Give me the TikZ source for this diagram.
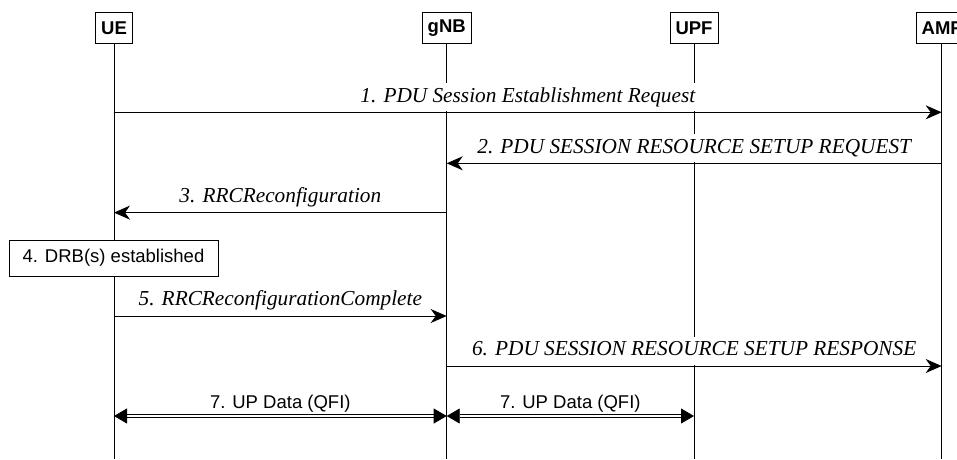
\documentclass[tikz,border=0pt]{standalone}
\usepackage{fontspec}
\setmainfont{Liberation Serif}
\setsansfont{Liberation Sans}
\usetikzlibrary{arrows.meta}
\begin{document}
\begin{tikzpicture}[x=1pt,y=-1pt,
  actor/.style={draw, line width=0.9pt, fill=white, font=\sffamily\bfseries\fontsize{18.5}{22}\selectfont,
    minimum height=31pt, inner xsep=5.5pt, inner ysep=0pt, anchor=north},
  lifeline/.style={line width=0.9pt},
  msg/.style={line width=1pt, -{Stealth[length=16pt,width=14pt,inset=5pt]}},
  msglabel/.style={font=\itshape\fontsize{21.3}{25}\selectfont, fill=white, anchor=south,
    inner xsep=2pt, inner ysep=4pt, text height=15pt, text depth=5pt, yshift=0.6pt},
  data/.style={line width=0.8pt, double=white, double distance=2.2pt,
    {Triangle[length=13pt,width=15pt]}-{Triangle[length=13pt,width=15pt]}},
  datalabel/.style={font=\sffamily\fontsize{18.5}{22}\selectfont, anchor=base, yshift=8pt, inner sep=0pt},
  actionbox/.style={draw, line width=0.9pt, fill=white, font=\sffamily\fontsize{18.5}{22}\selectfont,
    minimum width=209pt, minimum height=36pt, inner sep=0pt}
]
\path[use as bounding box, clip] (0,0) rectangle (957,459);

% actors
\node[actor] (ue)  at (114,12)   {UE};
\node[actor] (gnb) at (446.7,12) {gNB};
\node[actor] (upf) at (694,12)   {UPF};
\node[actor] (amf) at (941.7,12) {AMF};

% helper coordinates
\coordinate (bot) at (0,459);
\coordinate (y1) at (0,112.3);
\coordinate (y2) at (0,163.3);
\coordinate (y3) at (0,212.6);
\coordinate (y4) at (0,258);
\coordinate (y5) at (0,316);
\coordinate (y6) at (0,366);
\coordinate (y7) at (0,416);

% lifelines
\foreach \a in {ue,gnb,upf,amf}
  \draw[lifeline] (\a.south) -- (\a.south |- bot);

% messages
\draw[msg] (ue |- y1) -- node[msglabel] {1. PDU Session Establishment Request} (amf |- y1);
\draw[msg] (amf |- y2) -- node[msglabel] {2. PDU SESSION RESOURCE SETUP REQUEST} (gnb |- y2);
\draw[msg] (gnb |- y3) -- node[msglabel] {3. RRCReconfiguration} (ue |- y3);
\node[actionbox] (drb) at ([xshift=-0.5pt]ue |- y4) {4. DRB(s) established};
\draw[msg] (ue |- y5) -- node[msglabel] {5. RRCReconfigurationComplete} (gnb |- y5);
\draw[msg] (gnb |- y6) -- node[msglabel] {6. PDU SESSION RESOURCE SETUP RESPONSE} (amf |- y6);
\draw[data] (ue |- y7) -- node[datalabel] {7. UP Data (QFI)} (gnb |- y7);
\draw[data] (gnb |- y7) -- node[datalabel] {7. UP Data (QFI)} (upf |- y7);
\end{tikzpicture}
\end{document}
